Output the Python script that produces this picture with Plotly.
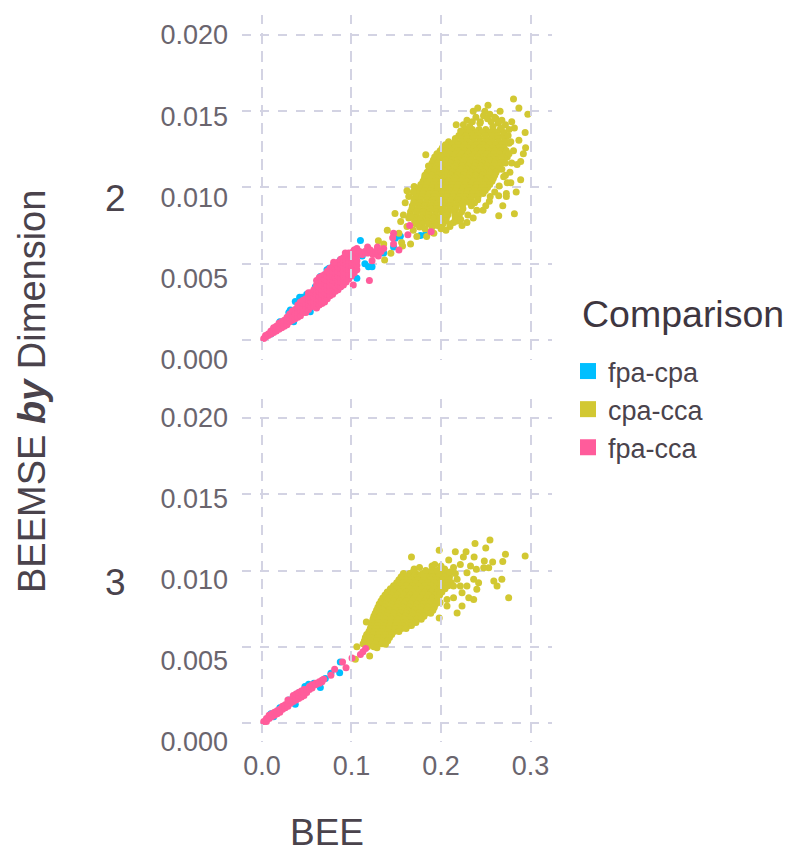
import plotly.graph_objects as go

SERIES = ["fpa-cpa", "cpa-cca", "fpa-cca"]
COLORS = {"fpa-cpa": "#00BFFF", "cpa-cca": "#D2C832", "fpa-cca": "#FF5C9B"}
DIMENSIONS = ["2", "3"]
X_TICKS = [0.0, 0.1, 0.2, 0.3]
Y_TICKS = [0.0, 0.005, 0.01, 0.015, 0.02]

# Dimension 2, cpa-cca: dense core read row by row (BEEMSE, [BEE...])
cc2_rows = [
 (0.0138,[.228,.235,.2425,.250,.258,.266]),
 (0.0136,[.224,.231,.239,.246,.254,.262,.270]),
 (0.0134,[.220,.2275,.2345,.2415,.2495,.2565,.2635,.2705]),
 (0.0132,[.216,.223,.229,.236,.243,.250,.257,.264,.271]),
 (0.0130,[.2085,.2155,.2225,.2295,.2365,.2435,.2505,.2575,.2645,.2715]),
 (0.0128,[.205,.212,.219,.226,.233,.240,.247,.254,.261,.268]),
 (0.0126,[.2015,.2085,.2155,.2225,.2295,.2365,.2435,.2505,.2575,.2645,.2705]),
 (0.0124,[.199,.206,.212,.219,.226,.233,.240,.246,.253,.260,.267,.273]),
 (0.0122,[.1955,.2025,.2095,.2165,.2235,.2305,.2375,.2445,.2515,.2585,.2655,.2725]),
 (0.0120,[.193,.200,.207,.213,.220,.227,.234,.241,.248,.255,.262,.269,.274]),
 (0.0118,[.1915,.1985,.2055,.2125,.2195,.2265,.2335,.2405,.2475,.2545,.2615,.2685]),
 (0.0116,[.190,.197,.204,.211,.218,.225,.232,.239,.246,.253,.260,.267,.272]),
 (0.0114,[.1885,.1955,.2025,.2095,.2165,.2235,.2305,.2375,.2445,.2515,.2585,.2655]),
 (0.0112,[.187,.194,.201,.208,.215,.222,.229,.236,.243,.250,.257,.264]),
 (0.0110,[.1845,.1915,.1985,.2055,.2125,.2195,.2265,.2335,.2405,.2475,.2545,.2615]),
 (0.0108,[.183,.190,.197,.204,.211,.218,.225,.232,.239,.246,.253,.260]),
 (0.0106,[.1815,.1885,.1955,.2025,.2095,.2165,.2235,.2305,.2375,.2445,.2515,.2585]),
 (0.0104,[.180,.187,.194,.201,.208,.215,.222,.229,.236,.243,.250,.257]),
 (0.0102,[.1775,.1845,.1915,.1985,.2055,.2125,.2195,.2265,.2335,.2405,.2475,.2545]),
 (0.0100,[.176,.183,.190,.197,.204,.211,.218,.225,.232,.239,.246,.252]),
 (0.0098,[.1745,.1815,.1885,.1955,.2025,.2095,.2165,.2235,.2305,.2375,.2445,.2495]),
 (0.0096,[.173,.180,.187,.194,.201,.208,.215,.222,.229,.236,.242,.247]),
 (0.0094,[.1715,.1785,.1855,.1925,.1995,.2065,.2135,.2205,.2275,.2345,.2415]),
 (0.0092,[.170,.177,.184,.191,.198,.205,.212,.219,.226,.233,.241]),
 (0.0090,[.1695,.1765,.1835,.1905,.1975,.2045,.2115,.2185,.2255,.2325,.2375]),
 (0.0088,[.168,.175,.182,.189,.196,.203,.210,.217,.224,.234]),
 (0.0086,[.1675,.1745,.1815,.1885,.1955,.2025,.2095,.2165,.2245]),
 (0.0084,[.166,.173,.180,.187,.194,.201,.208,.215,.223]),
 (0.0082,[.1655,.1725,.1795,.1865,.1935,.2005,.2075,.2155,.2205]),
 (0.0080,[.164,.171,.178,.185,.192,.199,.206,.216]),
 (0.0078,[.1705,.1775,.1845,.1915,.1985,.2055]),
 (0.0076,[.172,.179,.186,.193,.202]),
]
cc2_extra_x = [.281,.287,.297,.2525,.241,.236,.249,.266,.2545,.2615,.217,.279,.282,.294,.287,.2945,.292,.183,.276,
 .289,.285,.279,.289,.278,.284,.273,.273,.2645,.269,.282,.2645,.254,.247,.236,.229,.2235,.21,.2055,.214,
 .192,.184,.188,.173,.166,.156,.157,.144,.137,.14,.13,.136,.153,.155,.1486,.16,.164,.162,.17,.182,.186,.169,.158,.166,.162,.169,
 .225,.229,.235,.239,.244,.2475,.252,.256,.26,.264,.268,.272,.276,.222,.232,.2435,.258,.2675,.275,.278,.276,.281,.277,.272,.274,
 .176,.182,.19,.196,.2,.21,.218,.222,.23,.24,.25,.255,.26,.265,.27,.268]
cc2_extra_y = [.0158,.0152,.0148,.01538,.0152,.0150,.0150,.0150,.0148,.0145,.0141,.0143,.0139,.0136,.0131,.0126,.0122,.01214,.0129,
 .0117,.0115,.0116,.0105,.0103,.0097,.0096,.0094,.00945,.0088,.00827,.00814,.0091,.0085,.0080,.0077,.0075,.00744,.0072,.0077,
 .007,.00678,.0071,.00678,.0063,.00639,.00617,.00569,.00525,.0072,.0065,.0063,.007,.00776,.0083,.009,.0094,.00978,.01006,.0108,.0114,.0097,.0082,.0081,.00744,.0072,
 .0141,.0144,.0143,.0146,.0143,.0147,.0145,.0143,.0146,.0142,.0144,.0141,.0138,.0137,.0140,.0142,.0140,.0139,.0134,.0130,.0122,.0124,.0110,.0108,.0103,
 .0074,.0073,.0074,.0075,.0073,.0076,.0078,.0079,.0082,.0085,.0088,.0094,.0097,.0101,.0107,.0112]

# Dimension 3, cpa-cca
cc3_rows = [
 (0.0098,[.158,.165,.172,.179,.186,.193,.200,.205]),
 (0.0096,[.1555,.1625,.1695,.1765,.1835,.1905,.1975,.2045,.2095]),
 (0.0094,[.153,.160,.167,.174,.181,.188,.195,.202,.209]),
 (0.0092,[.1505,.1575,.1645,.1715,.1785,.1855,.1925,.1995,.2065,.2115]),
 (0.0090,[.147,.154,.161,.168,.175,.182,.189,.196,.203,.208]),
 (0.0088,[.1435,.1505,.1575,.1645,.1715,.1785,.1855,.1925,.1995,.2045]),
 (0.0086,[.140,.147,.154,.161,.168,.175,.182,.189,.196,.201]),
 (0.0084,[.1375,.1445,.1515,.1585,.1655,.1725,.1795,.1865,.1935,.1985]),
 (0.0082,[.135,.142,.149,.156,.163,.170,.177,.184,.191,.196]),
 (0.0080,[.133,.140,.147,.154,.161,.168,.175,.182,.189,.196]),
 (0.0078,[.131,.138,.145,.152,.159,.166,.173,.180,.187,.194]),
 (0.0076,[.1295,.1365,.1435,.1505,.1575,.1645,.1715,.1785,.1855,.1925]),
 (0.0074,[.128,.135,.142,.149,.156,.163,.170,.177,.184,.191]),
 (0.0072,[.1265,.1335,.1405,.1475,.1545,.1615,.1685,.1755,.1825,.1885]),
 (0.0070,[.125,.132,.139,.146,.153,.160,.167,.174,.181]),
 (0.0068,[.124,.131,.138,.145,.152,.159,.166,.173,.178]),
 (0.0066,[.123,.130,.137,.144,.151,.158,.165,.172]),
 (0.0064,[.122,.129,.136,.143,.150,.157,.164,.167]),
 (0.0062,[.121,.128,.135,.142,.149,.156,.161]),
 (0.0060,[.1195,.1265,.1335,.1405,.1475,.153]),
 (0.0058,[.117,.124,.131,.138,.145]),
 (0.0056,[.1155,.1225,.1295,.1365,.1425]),
 (0.0054,[.1145,.1215,.1285,.1355,.1405]),
 (0.0052,[.113,.120,.127,.134]),
 (0.0050,[.118,.125]),
]
cc3_extra_x = [.294,.2547,.238,.25,.228,.216,.198,.167,.272,.269,.2577,.2484,.237,.225,.2086,.268,.259,.2626,.2756,.2365,.218,.198,.1166,
 .2477,.2533,.2395,.233,.2216,.214,.199,.19,.1695,.1806,.229,.218,.2365,.242,.229,.24,.2216,.214,.2235,.231,.2235,.214,.2067,.2067,.199,.106,.1043,.1203,.1285,.138,
 .17,.176,.183,.19,.196,.204,.21,.216,.2,.193]
cc3_extra_y = [.01096,.012,.01177,.01148,.01124,.01124,.01133,.01089,.01107,.01059,.01056,.01063,.01089,.01089,.0107,.00943,.00932,.00899,.00822,.00811,.00722,.00689,.00663,
 .01019,.01019,.01008,.0103,.0104,.0102,.01008,.0103,.00997,.00975,.00986,.00943,.00943,.0092,.00899,.00877,.00899,.00899,.00855,.00822,.00768,.00822,.00811,.00768,.0079,.005,.00418,.0044,.00494,.00516,
 .0101,.0102,.0100,.0100,.0100,.0101,.0099,.0098,.0103,.0104]

# Dimension 2, fpa-cca: columns (BEE, [BEEMSE...])
fc2_cols = [
 (.002,[.0001]),(.004,[.0002,.0003]),(.007,[.0003,.0004]),(.010,[.0004,.0005,.0006]),
 (.013,[.0005,.0006,.0008]),(.016,[.0006,.0008,.0009]),(.019,[.0007,.0009,.0011]),
 (.022,[.0008,.0010,.0012]),(.025,[.0009,.0011,.0013]),(.028,[.0010,.0013,.0015]),
 (.031,[.0012,.0014,.0017]),(.034,[.0013,.0016,.0019]),(.037,[.0014,.0017,.0020]),
 (.040,[.0015,.0018,.0021,.0023]),(.043,[.0016,.0019,.0022,.0025]),(.046,[.0018,.0021,.0024,.0026]),
 (.049,[.0018,.0021,.0024,.0027]),(.052,[.0020,.0023,.0026,.0029,.0031]),(.055,[.0022,.0025,.0028,.0031]),
 (.058,[.0022,.0025,.0028,.0031,.0033]),(.061,[.0021,.0024,.0027,.0030,.0033,.0036,.0039]),(.064,[.0023,.0026,.0029,.0032,.0035,.0038,.0041]),
 (.067,[.0024,.0027,.0030,.0033,.0036,.0039,.0042]),(.070,[.0025,.0028,.0031,.0034,.0037,.0040,.0043]),(.073,[.0027,.0030,.0033,.0036,.0039,.0042,.0045]),
 (.076,[.0029,.0032,.0035,.0038,.0041,.0044,.0047]),(.079,[.0030,.0033,.0036,.0039,.0042,.0045,.0048]),(.082,[.0032,.0035,.0038,.0041,.0044,.0047,.0050]),
 (.085,[.0033,.0036,.0039,.0042,.0045,.0048,.0051]),(.088,[.0035,.0038,.0041,.0044,.0047,.0050,.0053]),(.091,[.0036,.0039,.0042,.0045,.0048,.0051,.0054]),
 (.094,[.0038,.0041,.0044,.0047,.0050,.0052,.0055]),(.097,[.0040,.0043,.0046,.0049,.0052,.0054,.0057]),(.100,[.0042,.0045,.0048,.0051,.0054,.0057]),
 (.103,[.0044,.0047,.0050,.0053,.0056,.0059]),(.106,[.0046,.0049,.0052,.0055,.0057,.0060]),
]
fc2_extra_x = [.120,.102,.108,.104,.118,.129,.136,.130,.123,.147,.146,.147,.153,.165,.163,.189,.0801,.0931,
 .109,.112,.115,.118,.121,.124,.127,.130,.133]
fc2_extra_y = [.0039,.0036,.0057,.0059,.0061,.0061,.0060,.0055,.0052,.0070,.0067,.0063,.0059,.0075,.0069,.0071,.0051,.0057,
 .0058,.0056,.0058,.0057,.0059,.0056,.0058,.0058,.0058]

# Dimension 3, fpa-cca
fc3_cols = [
 (.002,[.0001]),(.005,[.0001,.0003]),(.008,[.0003,.0005]),(.011,[.0004,.0006]),(.014,[.0005,.0007]),
 (.017,[.0006,.0008]),(.020,[.0007,.0009]),(.023,[.0009,.0011]),(.026,[.0010,.0012]),(.029,[.0011,.0013,.0015]),
 (.032,[.0013,.0015]),(.035,[.0014,.0016,.0018]),(.038,[.0015,.0017,.0019]),(.041,[.0016,.0018,.0020]),
 (.044,[.0017,.0019,.0021]),(.047,[.0018,.0020,.0022]),(.050,[.0020,.0022]),(.053,[.0022,.0024]),
 (.056,[.0023,.0025]),(.060,[.0025,.0026]),(.064,[.0026,.0027]),(.067,[.0027,.0028]),
]
fc3_extra_x = [.0689,.077,.0812,.09,.0939,.1006,.11,.1128,.1158]
fc3_extra_y = [.00287,.00313,.00352,.004,.00363,.00427,.0045,.00468,.00488]

# fpa-cpa, visible mostly along the edges of the pink band
fb2_x = [.0372,.0421,.0317,.0596,.0652,.0726,.0875,.11,.106,.119,.123,.136,.147,.1546,.177,.1825,.149,.0354,.054,.0875,
 .01,.02,.03,.045,.05,.075,.08,.095,.1,.105,.112,.115]
fb2_y = [.00252,.0028,.00197,.0035,.00416,.0046,.00525,.00652,.00405,.0048,.0048,.0057,.0061,.0068,.00685,.0069,.00667,.0012,.00186,.0035,
 .0004,.0012,.0018,.0028,.0030,.0047,.0049,.0043,.0047,.0051,.0055,.0050]
fb3_x = [.0875,.0868,.077,.0652,.0521,.041,.0372,.0708,.01,.02,.03,.048,.058,.013]
fb3_y = [.004,.0033,.00326,.00232,.00254,.00199,.00122,.00291,.0006,.0010,.0015,.0024,.0026,.0004]


def rows_xy(rows, ex, ey):
    xs, ys = [], []
    for y, row in rows:
        xs += row
        ys += [y] * len(row)
    return xs + ex, ys + ey


def cols_xy(cols, ex, ey):
    xs, ys = [], []
    for x, col in cols:
        xs += [x] * len(col)
        ys += col
    return xs + ex, ys + ey


panels = {
    "2": {"fpa-cpa": (fb2_x, fb2_y),
          "cpa-cca": rows_xy(cc2_rows, cc2_extra_x, cc2_extra_y),
          "fpa-cca": cols_xy(fc2_cols, fc2_extra_x, fc2_extra_y)},
    "3": {"fpa-cpa": (fb3_x, fb3_y),
          "cpa-cca": rows_xy(cc3_rows, cc3_extra_x, cc3_extra_y),
          "fpa-cca": cols_xy(fc3_cols, fc3_extra_x, fc3_extra_y)},
}

W, H = 800, 861
GRID = "#D3D3E3"
TICK = "#6A656E"
TITLE = "#4A434C"
FONT = "Liberation Sans"


def py(p):
    return (H - p) / H


fig = go.Figure()
# carriers of the tick-label axes, drawn first so the data stays on top
fig.add_trace(go.Scatter(x=[None], y=[None], xaxis="x", yaxis="y3", showlegend=False, hoverinfo="skip"))
fig.add_trace(go.Scatter(x=[None], y=[None], xaxis="x2", yaxis="y4", showlegend=False, hoverinfo="skip"))
for i, dim in enumerate(DIMENSIONS):
    ya = "y" if i == 0 else "y2"
    xa = "x" if i == 0 else "x2"
    for s in SERIES:
        x, y = panels[dim][s]
        fig.add_trace(go.Scatter(x=x, y=y, mode="markers", xaxis=xa, yaxis=ya, showlegend=False,
                                 name=s, marker=dict(color=COLORS[s], size=7, line=dict(width=0))))
for s in SERIES:
    fig.add_trace(go.Scatter(x=[None], y=[None], mode="markers", name=s,
                             marker=dict(color=COLORS[s], size=18, symbol="square", line=dict(width=0))))

XR = [-0.0223, 0.324]
xcommon = dict(range=XR, domain=[242 / W, 552 / W], tickvals=X_TICKS, showgrid=True, gridcolor=GRID,
               gridwidth=1.5, griddash="dash", zeroline=False, showline=False, ticks="")
ycommon = dict(tickvals=Y_TICKS, showgrid=True, gridcolor=GRID, gridwidth=1.5, griddash="dash",
               zeroline=False, showline=False, ticks="", showticklabels=False)
lab = dict(range=[0, 0.02], tickvals=Y_TICKS, tickformat=".3f", showgrid=False, zeroline=False, showline=False,
           ticks="", anchor="free", position=228 / W, tickfont=dict(size=27, color=TICK, family=FONT))


def note(text, x, y, size, color=TITLE, **kw):
    return dict(text=text, x=x / W, y=py(y), xref="paper", yref="paper", showarrow=False,
                xanchor=kw.pop("xanchor", "center"), yanchor="middle",
                font=dict(size=size, color=color, family=FONT), **kw)


fig.update_layout(
    width=W, height=H, margin=dict(l=0, r=0, t=0, b=0, autoexpand=False),
    plot_bgcolor="rgba(0,0,0,0)", paper_bgcolor="white",
    font=dict(family=FONT),
    xaxis=dict(**xcommon, anchor="y", showticklabels=False),
    xaxis2=dict(**xcommon, anchor="y2", ticklabelstandoff=5, tickformat=".1f",
                tickfont=dict(size=27, color=TICK, family=FONT)),
    yaxis=dict(**ycommon, range=[-0.00098, 0.0213], domain=[py(355), py(15)], anchor="x"),
    yaxis2=dict(**ycommon, range=[-0.00125, 0.02126], domain=[py(742), py(399)], anchor="x2"),
    yaxis3=dict(**lab, domain=[py(360), py(35)]),
    yaxis4=dict(**lab, domain=[py(742), py(418)]),
    legend=dict(x=568 / W, y=py(347), xanchor="left", yanchor="top", itemclick=False, itemdoubleclick=False,
                font=dict(size=27, color=TITLE, family=FONT), bgcolor="rgba(0,0,0,0)"),
    annotations=[
        note("Comparison", 580, 314, 37.5, color="#3E3640", xanchor="left"),
        note("2", 116, 198, 37),
        note("3", 116, 582, 37),
        note("BEE", 327, 832, 37),
        note("BEEMSE <b><i>by</i></b> Dimension", 32, 392, 38, textangle=-90),
    ],
)
fig.write_html("out.html", post_script="document.body.style.margin='0';", config={"displayModeBar": False})
